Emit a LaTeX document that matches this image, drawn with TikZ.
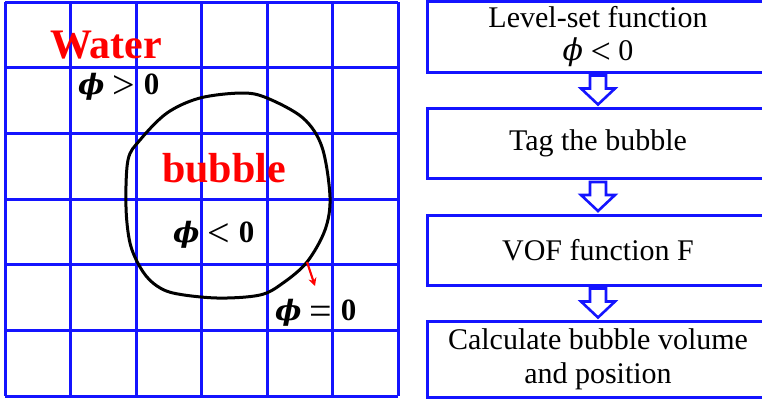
\documentclass[tikz,border=0pt]{standalone}
\usepackage{fontspec}
\setmainfont{Liberation Serif}
\newfontfamily\phifont{DejaVu Serif}
\newcommand{\myphi}{{\phifont\itshape\char"03D5}}
\newcommand{\myrel}[1]{\hspace{0.3em}\raisebox{-4pt}{\fontsize{40}{30}\selectfont\mdseries\upshape #1}\hspace{0.3em}}
\newcommand{\myrelsmall}[1]{\hspace{0.25em}\raisebox{-3.5pt}{\fontsize{36}{30}\selectfont\mdseries\upshape #1}\hspace{0.25em}}
\usetikzlibrary{calc,arrows.meta}
\definecolor{gridblue}{RGB}{20,20,255}
\definecolor{lblred}{RGB}{255,0,0}
\tikzset{
  gridline/.style={draw=gridblue, line width=3pt},
  flowbox/.style={draw=gridblue, line width=3pt, minimum width=342pt, inner sep=0pt, align=center, font=\fontsize{30}{35}\selectfont},
  redlbl/.style={text=lblred, font=\fontsize{42}{46}\selectfont\bfseries, inner sep=0pt, anchor=base west},
  mathlbl/.style={text=black, font=\fontsize{28}{30}\selectfont\bfseries, inner sep=0pt, anchor=base west},
  blockarr/.style={draw=gridblue, line width=2.6pt, fill=white, line join=miter},
  pics/downarrow/.style={code={
    \draw[blockarr] (-8,-14.5) -- (8,-14.5) -- (8,-1.5) -- (17,-1.5) -- (0,14.5) -- (-17,-1.5) -- (-8,-1.5) -- cycle;
  }}
}
\begin{document}
\begin{tikzpicture}[x=1pt,y=-1pt]
\useasboundingbox (0,0) rectangle (762,400);
\clip (0,0) rectangle (762,400);
% grid
\foreach \i in {0,...,6} {
  \draw[gridline] ({5+\i*65.5},2) -- ({5+\i*65.5},396);
  \draw[gridline] (5,{2+\i*65.67}) -- (398,{2+\i*65.67});
}
% bubble
\draw[black, line width=3pt] plot[smooth cycle, tension=0.55] coordinates {
  (242,93) (267,98) (303,118) (322,147) (330,197) (325,230) (307,262)
  (283,283) (260,295) (217,298) (173,293) (153,283) (140,267) (130,243)
  (126,207) (128,160) (140,140) (167,113) (200,98)};
\coordinate (nstart) at (307,262);
\coordinate (nend) at (315,286);
\draw[lblred, line width=2.2pt, -{Stealth[length=8pt,width=8pt]}] (nstart) -- (nend);
% labels
\node[redlbl] (water) at (50,58) {Water};
\node[mathlbl] (phigt) at (78,94) {\myphi\myrel{>}{\fontsize{31}{30}\selectfont 0}};
\node[redlbl] (bubble) at (162,182) {bubble};
\node[mathlbl] (philt) at (173,242) {\myphi\myrel{<}{\fontsize{31}{30}\selectfont 0}};
\node[mathlbl] (phieq) at (275,320) {\myphi\myrel{=}{\fontsize{31}{30}\selectfont 0}};
% flow boxes
\node[flowbox, minimum height=71pt] (b1) at (598,36.5) {Level-set function\\[-2pt] \myphi\myrelsmall{<}0};
\node[flowbox, minimum height=70pt] (b2) at (598,143) {Tag the bubble};
\node[flowbox, minimum height=70pt] (b3) at (598,250) {VOF function F};
\node[flowbox, minimum height=76pt] (b4) at (598,359) {Calculate bubble volume\\[-1pt] and position};
\coordinate (a1) at ($(b1.south)!0.5!(b2.north)$);
\coordinate (a2) at ($(b2.south)!0.5!(b3.north)$);
\coordinate (a3) at ($(b3.south)!0.5!(b4.north)$);
\pic at (a1) {downarrow};
\pic at (a2) {downarrow};
\pic at (a3) {downarrow};
\end{tikzpicture}
\end{document}
